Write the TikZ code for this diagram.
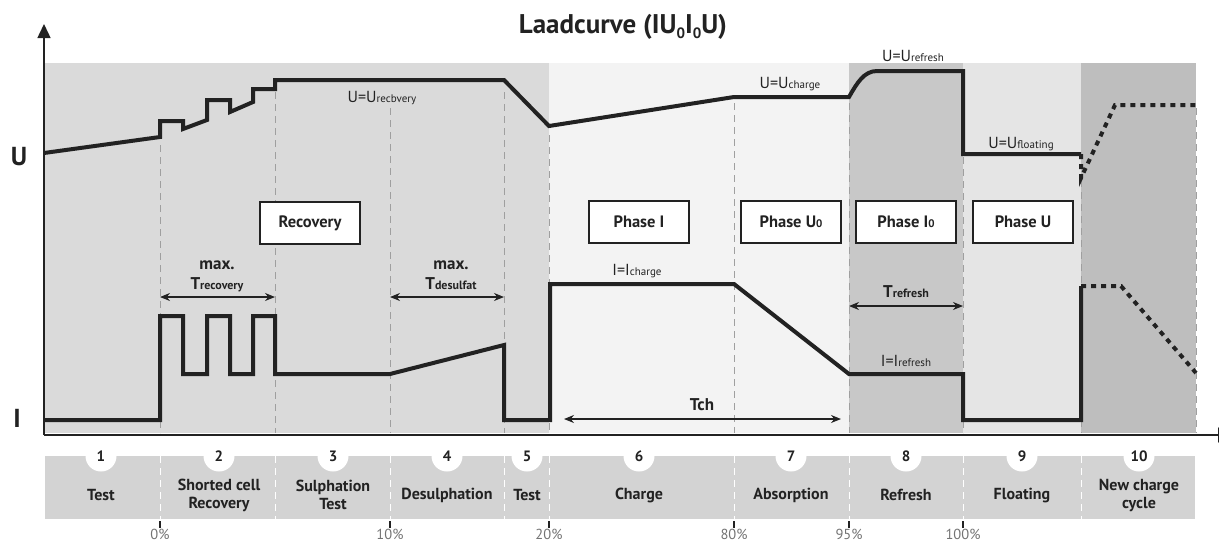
\documentclass[tikz,border=0pt]{standalone}
\usepackage{fontspec}
\setmainfont{PT Sans}
\usetikzlibrary{arrows.meta}

\definecolor{bandtest}{HTML}{DADADA}
\definecolor{bandcharge}{HTML}{F3F3F3}
\definecolor{bandrefresh}{HTML}{C8C8C8}
\definecolor{bandfloat}{HTML}{E5E5E5}
\definecolor{bandnew}{HTML}{BEBEBE}
\definecolor{barfill}{HTML}{D3D3D3}
\definecolor{inkdark}{HTML}{222222}

\newcommand{\lowtxt}[1]{{\fontsize{11}{12}\selectfont #1}}
\newcommand{\lowtim}[1]{{\fontsize{12}{14}\selectfont #1}}
\newcommand{\lowbox}[1]{{\fontsize{11}{12}\selectfont #1}}
\newcommand{\lowtitle}[1]{\raisebox{-5pt}{\fontsize{15}{16}\selectfont #1}}

\tikzset{
	curve/.style={line width=4pt, inkdark},
	curvedash/.style={curve, dash pattern=on 5pt off 5pt},
	phaseline/.style={gray!75, line width=0.9pt, dash pattern=on 7pt off 5pt},
	barline/.style={white, line width=1pt, dash pattern=on 7pt off 5pt},
	phasebox/.style={draw=inkdark, line width=1.2pt, fill=white, minimum width=100pt, minimum height=42pt, inner sep=0pt, font=\bfseries\fontsize{16.5}{19}\selectfont, text=inkdark},
	curvelabel/.style={font=\fontsize{16}{18}\selectfont, text=inkdark, inner sep=0pt, anchor=base},
	timelabel/.style={font=\bfseries\fontsize{17}{19}\selectfont, text=inkdark, inner sep=0pt, anchor=base},
	timearrow/.style={arrows={Stealth[length=10pt,width=8pt]-Stealth[length=10pt,width=8pt]}, line width=1.2pt, inkdark},
	barlabel/.style={font=\bfseries\fontsize{16}{18}\selectfont, align=center, text=inkdark, inner sep=0pt},
	numcircle/.style={circle, fill=white, minimum size=31pt, inner sep=0pt, font=\bfseries\fontsize{15}{16}\selectfont, text=inkdark},
	pctlabel/.style={font=\fontsize{14.5}{15}\selectfont, text=gray!90!black, inner sep=0pt}
}

\begin{document}
\begin{tikzpicture}[x=1pt, y=-1pt]
		\useasboundingbox (0,0) rectangle (1219,542);
		% Bands
		\fill [bandtest] (44,63) rectangle (549,433);
		\fill [bandcharge] (549,63) rectangle (849,433);
		\fill [bandrefresh] (849,63) rectangle (963,433);
		\fill [bandfloat] (963,63) rectangle (1081,433);
		\fill [bandnew] (1081,63) rectangle (1196,433);
		% Phase lines
		\foreach \x/\y in {160/145, 275/92, 390/108, 504/92, 549/135, 734/103, 849/103, 963/157, 1081/180, 1196/108}
			\draw [phaseline] (\x,\y) -- (\x,433);
		% Axes
		\draw [line width=1.5pt, inkdark, arrows={-Triangle[length=14pt,width=13pt]}] (44,435) -- (44,24);
		\draw [line width=1.5pt, inkdark, arrows={-Triangle[length=14pt,width=15pt]}] (44,435) -- (1232,435);
		\node [font=\bfseries\fontsize{26}{28}\selectfont, text=inkdark, inner sep=0pt, anchor=base] (ulabel) at (19,165) {U};
		\node [font=\bfseries\fontsize{26}{28}\selectfont, text=inkdark, inner sep=0pt, anchor=base] (ilabel) at (17,427) {I};
		% Title
		\node [font=\bfseries\fontsize{27}{29}\selectfont, text=inkdark, inner sep=0pt, anchor=base] (title) at (623,33) {Laadcurve (IU\lowtitle{0}I\lowtitle{0}U)};
		% Voltage
		\draw [curve] (44,153) -- (160,137) -- (160,121) -- (183,121) -- (183,129) -- (207,120) -- (207,100) -- (230,100) -- (230,112) -- (253,102) -- (253,89) -- (275,89) -- (275,80) -- (504,80) -- (549,126) -- (734,97) -- (849,97) .. controls (857,83) and (864,71) .. (877,71) -- (963,71) -- (963,154) -- (1081,154);
		\draw [curvedash] (1081,154) -- (1081,178) -- (1115,105) -- (1196,105);
		\node [curvelabel] (urecovery) at (382,102) {U=U\lowtxt{recbvery}};
		\node [curvelabel] (ucharge) at (790,88) {U=U\lowtxt{charge}};
		\node [curvelabel] (urefresh) at (913,61) {U=U\lowtxt{refresh}};
		\node [curvelabel] (ufloating) at (1021,148) {U=U\lowtxt{floating}};
		% Current
		\draw [curve] (44,420) -- (160,420) -- (160,316) -- (183,316) -- (183,374) -- (207,374) -- (207,316) -- (230,316) -- (230,374) -- (253,374) -- (253,316) -- (275,316) -- (275,374) -- (390,374) -- (504,345) -- (504,420) -- (550,420) -- (550,284) -- (734,284) -- (849,374) -- (963,374) -- (963,420) -- (1081,420) -- (1081,286);
		\draw [curvedash] (1081,286) -- (1121,286) -- (1196,373);
		\node [curvelabel] (icharge) at (637,275) {I=I\lowtxt{charge}};
		\node [curvelabel] (irefresh) at (906,366) {I=I\lowtxt{refresh}};
		% Phase boxes
		\node [phasebox] (recovery) at (310,223) {Recovery};
		\node [phasebox] (phasei) at (639,222) {Phase I};
		\node [phasebox] (phaseuo) at (791,222) {Phase U\lowbox{0}};
		\node [phasebox] (phaseio) at (906,222) {Phase I\lowbox{0}};
		\node [phasebox] (phaseu) at (1023,222) {Phase U};
		% Times
		\coordinate (trecA) at (160,297); \coordinate (trecB) at (275,297);
		\coordinate (tdesA) at (390,297); \coordinate (tdesB) at (504,297);
		\coordinate (trefA) at (849,306); \coordinate (trefB) at (963,306);
		\coordinate (tchA) at (564,419); \coordinate (tchB) at (841,419);
		\draw [timearrow] (trecA) -- (trecB);
		\draw [timearrow] (tdesA) -- (tdesB);
		\draw [timearrow] (trefA) -- (trefB);
		\draw [timearrow] (tchA) -- (tchB);
		\node [timelabel] (maxrec) at (217,269) {max.};
		\node [timelabel] (trec) at (217,289) {T\lowtim{recovery}};
		\node [timelabel] (maxdes) at (451,269) {max.};
		\node [timelabel] (tdes) at (451,289) {T\lowtim{desulfat}};
		\node [timelabel] (tref) at (906,297) {T\lowtim{refresh}};
		\node [timelabel] (tch) at (702,410) {Tch};
		% Phase bar
		\fill [barfill] (45,456) rectangle (1195,519);
		\foreach \x in {160, 275, 390, 504, 549, 734, 849, 963, 1081}
			\draw [barline] (\x,456) -- (\x,519);
		\foreach \x/\n in {101/1, 219/2, 333/3, 447/4, 527/5, 639/6, 791/7, 906/8, 1022/9, 1139/10}
			\node [numcircle] (num\n) at (\x,456) {\n};
		\node [barlabel] (ptest) at (101,495) {Test};
		\node [barlabel] (pshort) at (219,495) {Shorted cell\\Recovery};
		\node [barlabel] (psulph) at (333,495) {Sulphation\\Test};
		\node [barlabel] (pdesulph) at (447,495) {Desulphation};
		\node [barlabel] (ptest2) at (527,495) {Test};
		\node [barlabel] (pcharge) at (639,495) {Charge};
		\node [barlabel] (pabsorb) at (791,495) {Absorption};
		\node [barlabel] (prefresh) at (906,495) {Refresh};
		\node [barlabel] (pfloat) at (1022,495) {Floating};
		\node [barlabel] (pnew) at (1139,495) {New charge\\cycle};
		% Percentages
		\foreach \x/\p [count=\i] in {160/0, 390/10, 549/20, 734/80, 849/95, 963/100} {
			\draw [line width=1.2pt, inkdark] (\x,521) -- (\x,528);
			\node [pctlabel] (pct\i) at (\x,534) {\p\%};
		}
	\end{tikzpicture}
\end{document}
